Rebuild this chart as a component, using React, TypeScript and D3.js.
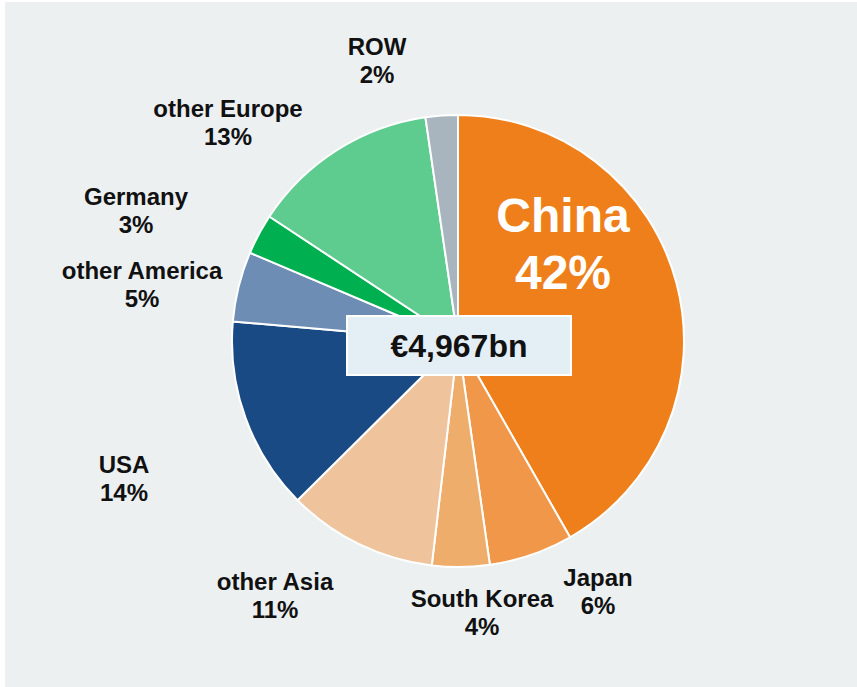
import React from "react";
import * as d3 from "d3";

const regions = ["China", "Japan", "South Korea", "other Asia", "USA", "other America", "Germany", "other Europe", "ROW"];
const shares = [41.7, 6.0, 4.1, 10.7, 13.8, 5.0, 2.9, 13.4, 2.3];
const shareLabels = ["42%", "6%", "4%", "11%", "14%", "5%", "3%", "13%", "2%"];
const totalLabel = "€4,967bn";

const colors = ["#ef7f1a", "#f0974a", "#efad6c", "#efc49c", "#1a4a84", "#6d8db5", "#00b050", "#5ecb8f", "#a9b5be"];
// label layout (center x, first-line center y)
const labelLayout: Record<string, [number, number]> = {
  "ROW": [377, 47],
  "other Europe": [228, 109],
  "Germany": [136, 197],
  "other America": [142, 271],
  "USA": [124, 465],
  "other Asia": [275, 582],
  "South Korea": [482, 599],
  "Japan": [598, 578],
};

export default function App() {
  const W = 857, H = 687;
  const cx = 458, cy = 341, r = 226;
  const data = regions.map((name, i) => ({ name, value: shares[i], label: shareLabels[i], color: colors[i] }));
  const pie = d3.pie<any>().sort(null).value((d: any) => d.value);
  const arcs = pie(data);
  const arc = d3.arc<any>().innerRadius(0).outerRadius(r);
  const font = "'Liberation Sans', Arial, sans-serif";
  return (
    <div>
      <style>{`body{margin:0}`}</style>
      <svg width={W} height={H} style={{ display: "block" }}>
        <rect x={0} y={0} width={W} height={H} fill="#ffffff" />
        <rect x={5} y={2} width={W - 5} height={H - 2} fill="#ecf0f1" />
        <g transform={`translate(${cx},${cy})`}>
          {arcs.map((a, i) => (
            <path key={i} d={arc(a) as string} fill={a.data.color} stroke="#ffffff" strokeWidth={2} strokeLinejoin="round" />
          ))}
        </g>
        <text x={563} y={215} textAnchor="middle" dy="0.35em" fill="#ffffff" fontFamily={font} fontWeight="bold" fontSize={48}>{regions[0]}</text>
        <text x={563} y={272} textAnchor="middle" dy="0.35em" fill="#ffffff" fontFamily={font} fontWeight="bold" fontSize={48}>{shareLabels[0]}</text>
        {data.slice(1).map((d) => {
          const [x, y] = labelLayout[d.name];
          return (
            <g key={d.name} fontFamily={font} fontWeight="bold" fontSize={24} fill="#111111" textAnchor="middle">
              <text x={x} y={y} dy="0.35em">{d.name}</text>
              <text x={x} y={y + 28} dy="0.35em">{d.label}</text>
            </g>
          );
        })}
        <rect x={347} y={316} width={224} height={59} fill="#e4eef5" stroke="#ffffff" strokeWidth={2} />
        <text x={459} y={346} textAnchor="middle" dy="0.35em" fontFamily={font} fontWeight="bold" fontSize={32} fill="#111111">{totalLabel}</text>
      </svg>
    </div>
  );
}
